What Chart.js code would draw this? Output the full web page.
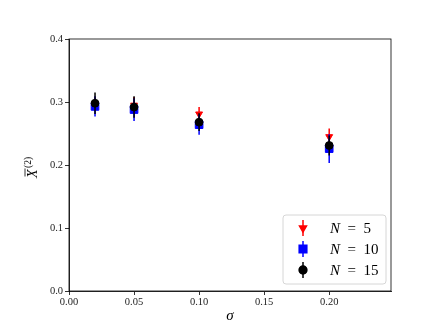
<!DOCTYPE html>
<html>
<head>
<meta charset="utf-8">
<script src="https://cdn.jsdelivr.net/npm/chart.js@4"></script>
<style>
  html, body { margin: 0; padding: 0; background: #fff; }
  #wrap { width: 436px; height: 327px; }
</style>
</head>
<body>
<div id="wrap"><canvas id="chart" width="436" height="327"></canvas></div>
<script>
// sigma values and X^(2) estimates for each N
const sigmas = [0.02, 0.05, 0.10, 0.20];
const labels = ['N = 5', 'N = 10', 'N = 15'];
const n5 = [0.297, 0.295, 0.281, 0.245];
const n5Err = [0.010, 0.013, 0.011, 0.013];
const n10 = [0.293, 0.288, 0.264, 0.226];
const n10Err = [0.016, 0.018, 0.016, 0.023];
const n15 = [0.298, 0.292, 0.268, 0.231];
const n15Err = [0.017, 0.017, 0.014, 0.016];
const xTicks = [0.00, 0.05, 0.10, 0.15, 0.20];
const yTicks = [0.0, 0.1, 0.2, 0.3, 0.4];

const serif = '"Liberation Serif", "DejaVu Serif", serif';

function pts(vals, errs) {
  return sigmas.map((s, i) => ({ x: s, y: vals[i], err: errs[i] }));
}

const colors = ['#ff0000', '#0000ff', '#000000'];
const styles = ['triangle', 'rect', 'circle'];
const rotations = [180, 0, 0];
const radii = [4, 5.4, 3.9];

// error bars drawn through the scales
const errorBars = {
  id: 'errorBars',
  beforeDatasetDraw(chart, args) {
    const ds = chart.data.datasets[args.index];
    const ctx = chart.ctx;
    const xs = chart.scales.x, ys = chart.scales.y;
    ctx.save();
    ctx.strokeStyle = ds.borderColor;
    ctx.lineWidth = 1.5;
    ds.data.forEach(p => {
      const px = xs.getPixelForValue(p.x);
      ctx.beginPath();
      ctx.moveTo(px, ys.getPixelForValue(p.y - p.err));
      ctx.lineTo(px, ys.getPixelForValue(p.y + p.err));
      ctx.stroke();
    });
    ctx.restore();
  }
};

// top/right spines, axis labels and legend
const frame = {
  id: 'frame',
  afterDraw(chart) {
    const ctx = chart.ctx;
    const a = chart.chartArea;
    ctx.save();
    ctx.strokeStyle = '#000';
    ctx.lineWidth = 0.8;
    ctx.strokeRect(a.left, a.top, a.right - a.left, a.bottom - a.top);

    // x label
    ctx.fillStyle = '#000';
    ctx.font = 'italic 15px ' + serif;
    ctx.textAlign = 'center';
    ctx.textBaseline = 'alphabetic';
    ctx.fillText('σ', (a.left + a.right) / 2, 320);

    // y label
    ctx.save();
    ctx.translate(37, (a.top + a.bottom) / 2);
    ctx.rotate(-Math.PI / 2);
    ctx.font = 'italic 14px ' + serif;
    ctx.textAlign = 'left';
    const w = ctx.measureText('X').width;
    const x0 = -13;
    ctx.fillText('X', x0, 0);
    ctx.lineWidth = 0.8;
    ctx.beginPath();
    ctx.moveTo(x0 + 1.5, -12);
    ctx.lineTo(x0 + w + 1, -12);
    ctx.stroke();
    ctx.font = '9.5px ' + serif;
    ctx.fillText('(2)', x0 + w + 1.5, -6);
    ctx.restore();

    // legend
    const lx = 283, ly = 215, lw = 103, lh = 69;
    ctx.beginPath();
    ctx.roundRect(lx, ly, lw, lh, 3);
    ctx.fillStyle = 'rgba(255,255,255,0.8)';
    ctx.fill();
    ctx.strokeStyle = '#d6d6d6';
    ctx.lineWidth = 1;
    ctx.stroke();
    const rows = [228, 249, 270];
    chart.data.datasets.forEach((ds, i) => {
      const cy = rows[i];
      ctx.strokeStyle = ds.borderColor;
      ctx.lineWidth = 1.5;
      ctx.beginPath();
      ctx.moveTo(303, cy - 8);
      ctx.lineTo(303, cy + 8);
      ctx.stroke();
      Chart.helpers.drawPoint(ctx, {
        pointStyle: ds.pointStyle, rotation: ds.rotation,
        radius: ds.pointRadius, borderWidth: 1
      }, 303, cy);
      ctx.fillStyle = ds.borderColor;
      ctx.fill();
      ctx.fillStyle = '#000';
      ctx.textAlign = 'left';
      ctx.textBaseline = 'middle';
      ctx.font = 'italic 15px ' + serif;
      ctx.fillText('N', 330, cy + 1);
      const nw = ctx.measureText('N').width;
      ctx.font = '15px ' + serif;
      ctx.fillText(labels[i].slice(1).replace(' = ', '  =  '), 330 + nw, cy + 1);
    });
    ctx.restore();
  }
};

// order: lower number is drawn on top, so N=15 ends up above the others
const datasets = [[n5, n5Err], [n10, n10Err], [n15, n15Err]].map((d, i) => ({
  label: labels[i],
  data: pts(d[0], d[1]),
  order: 2 - i,
  borderColor: colors[i],
  backgroundColor: colors[i],
  pointStyle: styles[i],
  rotation: rotations[i],
  pointRadius: radii[i],
  pointHoverRadius: radii[i],
  borderWidth: 1
}));

new Chart(document.getElementById('chart'), {
  type: 'scatter',
  data: { datasets },
  options: {
    responsive: false,
    animation: false,
    events: [],
    layout: { padding: { top: 39, right: 45, left: 0, bottom: 0 } },
    plugins: { legend: { display: false }, tooltip: { enabled: false } },
    scales: {
      x: {
        type: 'linear', min: 0, max: 0.2475,
        afterFit(s) { s.height = 36; },
        afterBuildTicks(s) { s.ticks = xTicks.map(v => ({ value: v })); },
        grid: { drawOnChartArea: false, tickLength: 4, color: '#000', tickWidth: 0.8 },
        border: { color: '#000', width: 0.8 },
        ticks: {
          padding: 1, color: '#222',
          font: { family: serif, size: 10.5 },
          callback: v => v.toFixed(2)
        }
      },
      y: {
        type: 'linear', min: 0, max: 0.4,
        afterFit(s) { s.width = 69; },
        afterBuildTicks(s) { s.ticks = yTicks.map(v => ({ value: v })); },
        grid: { drawOnChartArea: false, tickLength: 4, color: '#000', tickWidth: 0.8 },
        border: { color: '#000', width: 0.8 },
        ticks: {
          padding: 2, color: '#222',
          font: { family: serif, size: 10.5 },
          callback: v => v.toFixed(1)
        }
      }
    }
  },
  plugins: [errorBars, frame]
});
</script>
</body>
</html>
